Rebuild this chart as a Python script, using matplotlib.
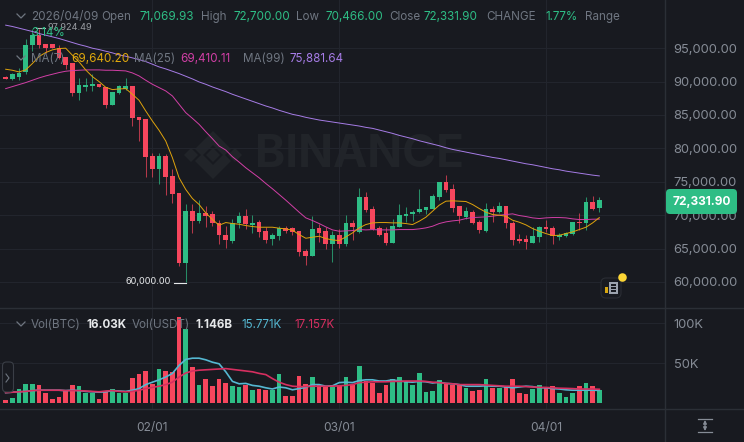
import matplotlib
matplotlib.use("Agg")
import matplotlib.pyplot as plt
from matplotlib.patches import FancyBboxPatch, Rectangle, Polygon

opens = [90750, 90350, 90700, 91450, 95450, 96950, 95600, 95600, 95100, 93700,
         92750, 88350, 89200, 89300, 89600, 89250, 86550, 88250, 88950, 89350,
         84750, 84350, 78800, 76850, 78800, 75800, 73250, 62850, 70650, 69200,
         70350, 70250, 68850, 67100, 66200, 68800, 69900, 68600, 68950, 67600,
         66400, 66950, 68150, 68050, 67700, 64700, 63950, 68050, 67600, 65750,
         67050, 65650, 68900, 67450, 72750, 70950, 68100, 67350, 65850, 68300,
         69850, 70150, 70450, 70850, 71000, 72700, 74950, 73950, 71350, 69750,
         70550, 68950, 67700, 70950, 70450, 71450, 68900, 66500, 66450, 65900,
         66700, 68300, 68150, 66750, 66850, 67250, 69050, 68800, 72000, 71069.93]
highs = [90800, 91250, 92000, 96450, 97924.49, 97924.49, 95700, 95650, 95450, 93700,
         92750, 90500, 90500, 91100, 89650, 89250, 88500, 89450, 90600, 89350,
         84750, 84350, 79350, 79350, 79200, 76950, 73250, 71750, 71750, 72250,
         71450, 70600, 69350, 68450, 69500, 70450, 70950, 70100, 69250, 68250,
         67350, 68350, 68350, 68250, 67700, 65000, 69950, 68750, 68250, 67600,
         67950, 70100, 69350, 74000, 73500, 71450, 68350, 68250, 69450, 71750,
         71250, 70750, 73850, 71250, 73200, 74950, 75950, 74700, 71450, 71250,
         70850, 69350, 71850, 71350, 72050, 71450, 69100, 67250, 67100, 68250,
         68450, 69250, 68450, 67350, 67450, 69050, 70350, 72750, 72850, 72700]
lows = [90400, 90200, 90200, 91100, 94600, 95100, 94250, 95000, 93450, 91950,
        87850, 87250, 88600, 88600, 89150, 86050, 86450, 88100, 88750, 83350,
        81100, 75700, 75700, 74600, 73000, 71850, 62350, 60000, 67300, 68850,
        68250, 68350, 65750, 65100, 65850, 68100, 68000, 67300, 66750, 65850,
        65600, 66250, 67350, 67100, 63850, 62500, 63950, 65950, 64950, 63050,
        65050, 65350, 66300, 67350, 70550, 67750, 66950, 65600, 65800, 68250,
        68950, 69200, 70350, 70250, 70950, 72350, 73450, 70450, 68850, 69450,
        68750, 67350, 67450, 68950, 70350, 68150, 65550, 65850, 64950, 65800,
        65950, 67550, 65650, 66250, 66750, 67100, 67850, 67750, 70750, 70466]
closes = [90450, 91100, 91300, 95450, 96950, 95450, 95100, 95050, 93600, 92500,
          88350, 89450, 89450, 89650, 89200, 86500, 88450, 89300, 89350, 84600,
          84250, 78700, 76850, 78800, 75700, 73100, 62850, 70650, 69200, 70400,
          69950, 68800, 67000, 66250, 68850, 69900, 68750, 68900, 67450, 66350,
          67050, 68100, 67700, 67450, 64550, 63950, 68000, 67350, 65750, 67050,
          65650, 68900, 68300, 72750, 70750, 68000, 67100, 65900, 68450, 70000,
          70250, 70550, 70950, 71250, 72850, 74950, 73750, 71150, 69850, 70600,
          68850, 67750, 70950, 70450, 71450, 68850, 66350, 66200, 65950, 66850,
          68300, 68000, 66950, 67100, 67300, 69050, 68800, 71950, 70950, 72331.90]

ma7 = [91850, 91700, 91450, 91750, 92700, 93750, 94350, 94750, 94950, 95000,
       93950, 92950, 91750, 90750, 90000, 89150, 88800, 88900, 88950, 88100,
       87200, 85600, 84100, 82700, 81100, 78600, 75600, 73850, 72500, 71600,
       70350, 69350, 68500, 68900, 68750, 68650, 68450, 68300, 68200, 68200,
       68200, 68050, 67950, 67750, 67100, 66550, 66700, 66850, 66500, 66300,
       66200, 66750, 67350, 68100, 68600, 68850, 68900, 68900, 68850, 68850,
       68750, 68600, 69100, 69700, 70600, 71500, 72100, 72150, 72100, 72050,
       71600, 71000, 70450, 70100, 70000, 69850, 69250, 68950, 68550, 68000,
       67600, 67250, 66950, 67000, 67250, 67500, 67850, 68200, 68850, 69640.20]
ma25 = [88950, 89250, 89550, 89850, 90200, 90550, 90850, 91100, 91350, 91550,
        91650, 91700, 91750, 91750, 91750, 91700, 91700, 91650, 91600, 91300,
        90850, 90200, 89600, 89100, 88600, 87850, 86600, 85350, 84500, 83600,
        82500, 81450, 80350, 79750, 78750, 77950, 77100, 76350, 75600, 74750,
        73950, 73100, 72250, 71350, 70450, 69600, 69200, 68750, 68250, 67800,
        67600, 67650, 67700, 67850, 67800, 67850, 67800, 67800, 67800, 67850,
        67850, 67850, 67950, 68100, 68350, 68750, 69000, 69150, 69250, 69500,
        69650, 69700, 69750, 69850, 70000, 70100, 70200, 69950, 69800, 69600,
        69500, 69600, 69650, 69650, 69600, 69450, 69350, 69350, 69400, 69410.11]
ma99 = [98450, 98250, 98000, 97750, 97500, 97200, 96950, 96700, 96450, 96150,
        95850, 95550, 95300, 95000, 94800, 94550, 94300, 94000, 93800, 93550,
        93300, 93000, 92600, 92200, 91900, 91550, 91200, 90800, 90400, 89950,
        89600, 89200, 88850, 88500, 88100, 87750, 87400, 87050, 86700, 86350,
        86050, 85700, 85400, 85100, 84900, 84650, 84450, 84250, 84100, 83950,
        83800, 83650, 83500, 83350, 83150, 83000, 82750, 82500, 82250, 81950,
        81700, 81450, 81150, 80900, 80650, 80400, 80100, 79850, 79650, 79450,
        79250, 79050, 78850, 78650, 78500, 78300, 78100, 77900, 77700, 77550,
        77350, 77150, 76950, 76800, 76600, 76450, 76300, 76150, 76000, 75881.64]

volumes = [4, 6, 17, 24, 24, 22.5, 12.5, 5.5, 8, 14.5,
           23, 21, 12.5, 12.5, 5.5, 14.5, 18, 13, 12.5, 31,
           36, 40, 24, 43, 40, 39, 107, 93, 45, 22,
           30, 21, 30, 25, 21, 20, 22, 16, 17, 16,
           16, 36, 9, 9, 34, 24, 32, 22, 21, 20,
           23, 33, 23, 46, 27, 25, 13, 22.5, 30, 33,
           28, 23, 37, 14, 15, 29, 24, 23, 23, 19,
           15, 16, 30, 19, 19, 20, 30, 12, 11, 18,
           23, 19, 21, 12, 8, 12.5, 21, 25, 21, 16.03]
vol_ma_a = [13, 13.5, 14, 14.5, 15.5, 16, 16, 16, 16, 15.5,
            16, 15.5, 14.5, 14, 13.5, 14, 15.5, 15, 14.5, 16,
            18, 23, 26, 29, 32.5, 37, 47, 54.5, 56, 56,
            54, 51, 49, 39, 27, 24, 24.5, 22, 21, 19,
            17.5, 20, 19, 16.5, 18, 19.5, 23, 23, 21, 21.5,
            25.5, 26, 25.5, 28, 29, 29, 27.5, 27.5, 29, 27.5,
            26.5, 26, 27, 26.5, 25, 26, 24.5, 24, 23, 21,
            21, 21, 21.5, 21, 21, 20, 19, 20, 21, 20.5,
            19, 19, 18, 17.5, 16.5, 16, 16, 16, 16, 15.771]
vol_ma_b = [13, 13.5, 14, 14.5, 15.5, 16, 16, 16, 16, 15.5,
            15.5, 15.5, 15, 14.5, 14, 15, 15.5, 14.5, 14, 14.5,
            16, 18, 19.5, 21, 23, 26, 32.5, 37.5, 40, 41,
            41.5, 42, 42.5, 43, 42, 41, 40, 39, 37, 35.5,
            30.5, 26, 23, 21, 20.5, 20.5, 21, 21, 21, 21,
            21.5, 22, 23, 25.5, 26, 26.5, 26.5, 26.5, 27, 27,
            27.5, 27.5, 27.5, 27, 26, 25.5, 24.5, 24, 23, 23,
            23, 23, 22.5, 22, 21.5, 21, 21, 21, 20.5, 20,
            19.5, 19.5, 19, 18.5, 18.3, 18, 17.5, 17.5, 17.5, 17.157]

price_ticks = [60000, 65000, 70000, 75000, 80000, 85000, 90000, 95000]
vol_ticks = [50, 100]
date_pos = [22, 50, 81]
date_labels = ["02/01", "03/01", "04/01"]

BG = "#181a20"
GRID = "#22252d"
GREEN = "#2ebd85"
RED = "#f6465d"
MUTED = "#6f7681"
AXIS_TEXT = "#868c96"
YELLOW = "#dfa30c"
MAGENTA = "#d23fa6"
PURPLE = "#a67ce6"
VOL_BLUE = "#55b8d2"
VOL_PINK = "#d62f60"
MARK = "#212429"

W, H = 744, 442
plt.rcParams.update({"font.family": "Inter", "font.size": 8.3})

fig = plt.figure(figsize=(W / 100, H / 100), dpi=100, facecolor=BG)

RIGHT = 665
TOP_PANE = 308
BOTTOM = 409


def rect(x0, y0, x1, y1):
    return [x0 / W, 1 - y1 / H, (x1 - x0) / W, (y1 - y0) / H]


ax = fig.add_axes(rect(0, 0, RIGHT, TOP_PANE), facecolor=BG)
vax = fig.add_axes(rect(0, TOP_PANE, RIGHT, BOTTOM), facecolor=BG, sharex=ax)
ov = fig.add_axes([0, 0, 1, 1], facecolor="none", zorder=5)
ov.set_xlim(0, W)
ov.set_ylim(H, 0)
ov.axis("off")

# candle index -> pixel is 5.67 + 6.67 * i
xlim = (-5.67 / 6.67, (RIGHT - 5.67) / 6.67)
ylim_price = (60000 - (TOP_PANE - 282) * 149.7, 60000 + 282 * 149.7)
ylim_vol = (-(BOTTOM - 403) / 0.8, (403 - TOP_PANE) / 0.8)

xs = list(range(len(closes)))
colors = [GREEN if c >= o else RED for o, c in zip(opens, closes)]

# faint watermark goes under the candles
ov_t = ov.transData
ax.text(360, 155, "BINANCE", transform=ov_t, color=MARK, fontsize=33,
        fontweight="bold", ha="center", va="center", zorder=0)
logo = [
    [(213, 131), (231, 149), (224, 156), (213, 145), (202, 156), (195, 149)],
    [(213, 179), (231, 161), (224, 154), (213, 165), (202, 154), (195, 161)],
    [(213, 148), (220, 155), (213, 162), (206, 155)],
    [(191, 148), (198, 155), (191, 162), (184, 155)],
    [(235, 148), (242, 155), (235, 162), (228, 155)],
]
for pts in logo:
    ax.add_patch(Polygon(pts, closed=True, transform=ov_t, facecolor=MARK, edgecolor="none", zorder=0))

ax.vlines(xs, lows, highs, colors=colors, linewidth=0.75, zorder=2, alpha=0.7)
ax.bar(xs, [abs(c - o) for o, c in zip(opens, closes)], bottom=[min(o, c) for o, c in zip(opens, closes)],
       width=0.7, color=colors, linewidth=0, zorder=3)
ax.plot(xs, ma99, color=PURPLE, linewidth=0.7, zorder=4)
ax.plot(xs, ma25, color=MAGENTA, linewidth=0.7, zorder=4)
ax.plot(xs, ma7, color=YELLOW, linewidth=0.7, zorder=5)

vax.bar(xs, volumes, width=0.7, color=colors, linewidth=0, zorder=3)
vax.plot(xs, vol_ma_a, color=VOL_BLUE, linewidth=1.2, zorder=4)
vax.plot(xs, vol_ma_b, color=VOL_PINK, linewidth=1.2, zorder=5)

ax.set_xlim(*xlim)
ax.set_ylim(*ylim_price)
vax.set_ylim(*ylim_vol)

ax.set_yticks(price_ticks)
ax.set_yticklabels([f"{p:,.2f}" for p in price_ticks])
vax.set_yticks(vol_ticks)
vax.set_yticklabels([f"{v}K" for v in vol_ticks])
vax.set_xticks(date_pos)
vax.set_xticklabels(date_labels)

for a in (ax, vax):
    a.grid(True, color=GRID, linewidth=0.8, zorder=1)
    a.set_axisbelow(True)
    a.yaxis.tick_right()
    a.tick_params(axis="y", length=0, pad=6.3, labelcolor=AXIS_TEXT, labelsize=9.3)
    a.tick_params(axis="x", length=0, pad=9, labelcolor=AXIS_TEXT, labelsize=8.6)
    for s in a.spines.values():
        s.set_visible(False)
ax.tick_params(axis="x", labelbottom=False)

# pane borders
ov.plot([0, W], [TOP_PANE, TOP_PANE], color="#2b2f36", lw=1.0)
ov.plot([0, W], [BOTTOM, BOTTOM], color="#2b2f36", lw=1.0)
ov.plot([RIGHT, RIGHT], [0, H], color="#2b2f36", lw=1.0)


def label(x, y, s, c=MUTED, **kw):
    ov.text(x, y, s, color=c, va="center", ha="left", fontsize=kw.pop("fontsize", 8.4), **kw)


def chevron(x, y):
    ov.plot([x - 4, x, x + 4], [y - 2, y + 2, y - 2], color=MUTED, lw=0.9)


chevron(21, 16)
label(31, 17, "2026/04/09")
label(101, 17, "Open")
label(139, 17, "71,069.93", GREEN)
label(201, 17, "High")
label(234, 17, "72,700.00", GREEN)
label(296, 17, "Low")
label(326, 17, "70,466.00", GREEN)
label(389, 17, "Close")
label(424, 17, "72,331.90", GREEN)
label(486, 17, "CHANGE")
label(545, 17, "1.77%", GREEN)
label(585, 17, "Range")

chevron(21, 58)
label(31, 59, "MA(7)")
label(71, 59, "69,640.20", "#e0a80c")
label(134, 59, "MA(25)")
label(180, 59, "69,410.11", MAGENTA)
label(243, 59, "MA(99)")
label(290, 59, "75,881.64", PURPLE)

label(47, 27, "97,924.49", "#9a9da3", fontsize=6.6)
ov.plot([36, 45], [28, 28], color="#b8b8b8", lw=0.8)
label(31, 33, "3.14%", GREEN)

label(126, 282, "60,000.00", "#e6e8ea", fontsize=6.6)
ov.plot([174, 186], [283, 283], color="#e6e8ea", lw=0.8)

chevron(21, 324)
label(31, 325, "Vol(BTC)")
label(86, 325, "16.03K", "#e6e8ea", fontweight="bold")
label(132, 325, "Vol(USDT)")
label(195, 325, "1.146B", "#e6e8ea", fontweight="bold")
label(241, 325, "15.771K", VOL_BLUE)
label(294, 325, "17.157K", VOL_PINK)

# last price badge
ov.add_patch(FancyBboxPatch((666, 189), 71, 25, boxstyle="round,pad=0,rounding_size=4",
                            facecolor=GREEN, edgecolor="none", zorder=6))
ov.text(702, 201.5, "72,331.90", color="white", fontsize=8.6, fontweight="bold",
        ha="center", va="center", zorder=7)

# news button
ov.add_patch(FancyBboxPatch((601, 278), 20, 20, boxstyle="round,pad=0,rounding_size=5",
                            facecolor=BG, edgecolor="#2a2d34", lw=0.8, zorder=6))
ov.add_patch(Rectangle((609, 282), 9, 12, facecolor="#9ca3ae", zorder=7))
ov.add_patch(Rectangle((611, 284), 5, 1.5, facecolor=BG, zorder=8))
ov.add_patch(Rectangle((611, 287), 5, 1.5, facecolor=BG, zorder=8))
ov.add_patch(Rectangle((611, 290), 5, 1.5, facecolor=BG, zorder=8))
ov.add_patch(Rectangle((605, 287), 2.5, 6, facecolor="#d8a70f", zorder=7))
ov.scatter([622], [277], s=38, color="#fcd535", linewidth=0, zorder=8)

# left collapse handle
ov.add_patch(FancyBboxPatch((2.5, 362), 11, 30, boxstyle="round,pad=0,rounding_size=4",
                            facecolor=BG, edgecolor="#3a3e46", lw=0.8, zorder=6))
ov.plot([6, 9, 6], [374, 378, 382], color=MUTED, lw=0.8, zorder=7)

# fit-scale icon
ov.plot([698, 712], [419, 419], color=AXIS_TEXT, lw=0.9)
ov.plot([698, 712], [432, 432], color=AXIS_TEXT, lw=0.9)
ov.annotate("", xy=(705, 420), xytext=(705, 431),
            arrowprops=dict(arrowstyle="<|-|>", color=AXIS_TEXT, lw=0.9, mutation_scale=5, shrinkA=0, shrinkB=0))

fig.savefig("out.png", dpi=100, facecolor=BG)
